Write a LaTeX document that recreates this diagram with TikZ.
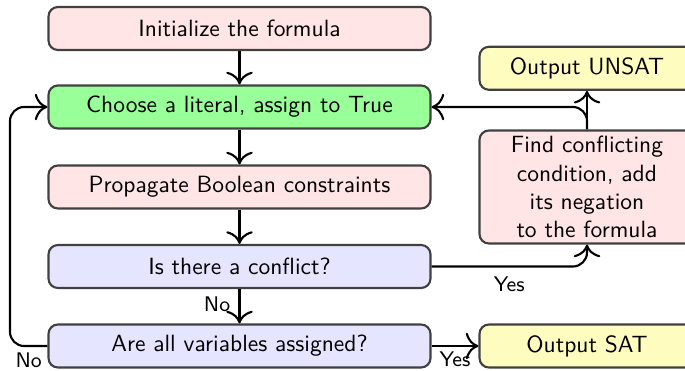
\documentclass[tikz,border=0pt]{standalone}
\usetikzlibrary{arrows.meta}
\def\pxu{0.4255pt}
\tikzset{
  box/.style={draw=black!75, line width=0.9pt, rounded corners=4pt, minimum width=382*\pxu, minimum height=43*\pxu, inner sep=2pt, font=\sffamily},
  rbox/.style={box, minimum width=215*\pxu},
  pinkfill/.style={fill=red!10},
  greenfill/.style={fill=green!40},
  bluefill/.style={fill=blue!10},
  yellowfill/.style={fill=yellow!25},
  arr/.style={-{To[scale=1.5]}, line width=0.9pt, black},
  lbl/.style={font=\sffamily\small, inner sep=2pt}
}
\begin{document}
\begin{tikzpicture}[x=\pxu,y=-\pxu]
\useasboundingbox (0,0) rectangle (685,371);
\node[box,pinkfill] (init) at (239.5,28.5) {Initialize the formula};
\node[box,greenfill] (choose) at (239.5,107) {Choose a literal, assign to True};
\node[box,pinkfill] (prop) at (239.5,187) {Propagate Boolean constraints};
\node[box,bluefill] (conflict) at (239.5,266.5) {Is there a conflict?};
\node[box,bluefill] (allvars) at (239.5,346) {Are all variables assigned?};
\node[rbox,yellowfill] (unsat) at (587,68.3) {Output UNSAT};
\node[rbox,pinkfill,minimum height=113*\pxu,align=center] (find) at (587,187) {Find conflicting\\condition, add\\its negation\\to the formula};
\node[rbox,yellowfill] (sat) at (587,346) {Output SAT};
\coordinate (loop) at (10,346);
\draw[arr] (init) -- (choose);
\draw[arr] (choose) -- (prop);
\draw[arr] (prop) -- (conflict);
\draw[arr] (conflict) -- node[lbl,left=1.5pt,pos=0.45]{No} (allvars);
\draw[arr] (allvars) -- node[lbl,below]{Yes} (sat);
\draw[arr,rounded corners=6pt] (conflict.east) -| node[lbl,pos=0.25,below=2pt]{Yes} (find.south);
\draw[arr] (find) -- (unsat);
\draw[arr,rounded corners=6pt] (find.north) |- (choose.east);
\draw[arr,rounded corners=6pt] (allvars.west) -- node[lbl,below=0.5pt]{No} (loop) |- (choose.west);
\end{tikzpicture}
\end{document}
